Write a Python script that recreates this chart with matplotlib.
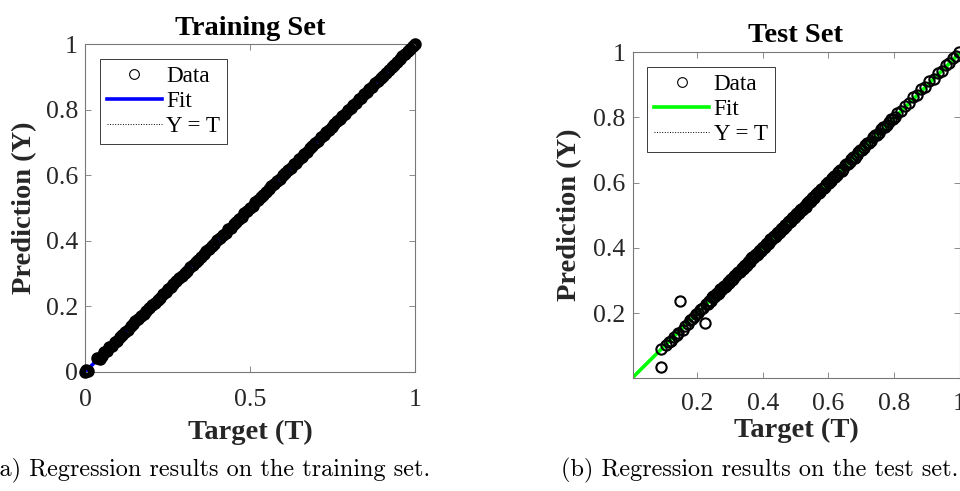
import matplotlib
matplotlib.use("Agg")
import matplotlib.pyplot as plt
from matplotlib.lines import Line2D

# training set: targets (T) and network outputs (Y)
train_target = [
    0.000, 0.003, 0.008, 0.036, 0.044, 0.051, 0.058, 0.066, 0.073, 0.081,
    0.090, 0.097, 0.106, 0.113, 0.121, 0.130, 0.138, 0.146, 0.153, 0.162,
    0.171, 0.178, 0.186, 0.195, 0.203, 0.212, 0.220, 0.227, 0.236, 0.244,
    0.253, 0.261, 0.268, 0.277, 0.286, 0.293, 0.302, 0.310, 0.318, 0.327,
    0.335, 0.342, 0.351, 0.360, 0.367, 0.376, 0.384, 0.392, 0.401, 0.409,
    0.417, 0.426, 0.434, 0.441, 0.450, 0.459, 0.466, 0.475, 0.483, 0.491,
    0.500, 0.508, 0.516, 0.525, 0.533, 0.540, 0.549, 0.558, 0.565, 0.574,
    0.582, 0.590, 0.599, 0.607, 0.615, 0.624, 0.632, 0.639, 0.648, 0.657,
    0.664, 0.673, 0.681, 0.689, 0.698, 0.706, 0.714, 0.723, 0.731, 0.738,
    0.747, 0.756, 0.763, 0.772, 0.780, 0.788, 0.797, 0.805, 0.813, 0.822,
    0.830, 0.837, 0.846, 0.855, 0.862, 0.871, 0.879, 0.887, 0.896, 0.904,
    0.912, 0.921, 0.929, 0.936, 0.945, 0.954, 0.961, 0.970, 0.978, 0.986,
    0.993, 1.000,
]
train_pred = [
    0.001, 0.006, 0.004, 0.043, 0.040, 0.050, 0.061, 0.064, 0.075, 0.080,
    0.091, 0.096, 0.107, 0.112, 0.122, 0.129, 0.139, 0.145, 0.154, 0.161,
    0.172, 0.177, 0.187, 0.194, 0.204, 0.211, 0.221, 0.226, 0.237, 0.243,
    0.254, 0.260, 0.269, 0.276, 0.287, 0.292, 0.303, 0.309, 0.319, 0.326,
    0.336, 0.341, 0.352, 0.359, 0.368, 0.375, 0.385, 0.391, 0.402, 0.408,
    0.418, 0.425, 0.435, 0.440, 0.451, 0.458, 0.467, 0.474, 0.484, 0.490,
    0.501, 0.507, 0.517, 0.524, 0.534, 0.539, 0.550, 0.557, 0.566, 0.573,
    0.583, 0.589, 0.600, 0.606, 0.616, 0.623, 0.633, 0.638, 0.649, 0.656,
    0.665, 0.672, 0.682, 0.688, 0.699, 0.705, 0.715, 0.722, 0.732, 0.737,
    0.748, 0.755, 0.764, 0.771, 0.781, 0.787, 0.798, 0.804, 0.814, 0.821,
    0.831, 0.836, 0.847, 0.854, 0.863, 0.870, 0.880, 0.886, 0.897, 0.903,
    0.913, 0.920, 0.930, 0.935, 0.946, 0.953, 0.962, 0.969, 0.979, 0.985,
    0.994, 1.000,
]

# test set
test_target = [
    0.089, 0.089, 0.105, 0.112, 0.118, 0.128, 0.138, 0.142, 0.148, 0.155,
    0.163, 0.170, 0.178, 0.183, 0.190, 0.196, 0.202, 0.207, 0.212, 0.218,
    0.222, 0.226, 0.231, 0.236, 0.241, 0.246, 0.252, 0.257, 0.262, 0.268,
    0.273, 0.279, 0.284, 0.289, 0.295, 0.300, 0.305, 0.311, 0.316, 0.322,
    0.327, 0.332, 0.338, 0.343, 0.349, 0.354, 0.360, 0.365, 0.371, 0.376,
    0.382, 0.387, 0.393, 0.398, 0.404, 0.409, 0.415, 0.421, 0.426, 0.432,
    0.437, 0.443, 0.449, 0.454, 0.460, 0.466, 0.471, 0.477, 0.483, 0.489,
    0.494, 0.500, 0.506, 0.512, 0.518, 0.524, 0.530, 0.536, 0.543, 0.549,
    0.556, 0.563, 0.570, 0.578, 0.586, 0.594, 0.603, 0.612, 0.621, 0.630,
    0.640, 0.650, 0.660, 0.670, 0.680, 0.691, 0.702, 0.713, 0.724, 0.736,
    0.748, 0.760, 0.772, 0.784, 0.797, 0.809, 0.821, 0.833, 0.846, 0.858,
    0.870, 0.883, 0.895, 0.908, 0.921, 0.934, 0.946, 0.958, 0.969, 0.980,
    0.990, 0.998,
    0.249, 0.254, 0.260, 0.265, 0.270, 0.276, 0.281, 0.287, 0.292, 0.297,
    0.303, 0.308, 0.314, 0.319, 0.324, 0.330, 0.335, 0.341, 0.346, 0.351,
    0.357, 0.362, 0.368, 0.373, 0.379, 0.384, 0.390, 0.395, 0.401, 0.406,
    0.412, 0.418, 0.423, 0.429, 0.434, 0.440, 0.446, 0.451, 0.457, 0.463,
    0.468, 0.474, 0.480, 0.486, 0.491, 0.497, 0.503, 0.509, 0.515, 0.521,
    0.527, 0.533, 0.540, 0.546, 0.553, 0.560, 0.567, 0.574, 0.582, 0.590,
    0.599, 0.608, 0.617, 0.626, 0.635, 0.645, 0.655, 0.665, 0.675, 0.686,
    0.697, 0.708, 0.719, 0.730, 0.742, 0.754, 0.766, 0.778, 0.791, 0.803,
]
test_pred = [
    0.035, 0.091, 0.104, 0.113, 0.115, 0.126, 0.135, 0.139, 0.239, 0.150,
    0.160, 0.166, 0.181, 0.183, 0.188, 0.197, 0.200, 0.210, 0.214, 0.215,
    0.171, 0.229, 0.228, 0.238, 0.239, 0.249, 0.250, 0.259, 0.260, 0.270,
    0.271, 0.281, 0.282, 0.291, 0.292, 0.303, 0.302, 0.313, 0.314, 0.324,
    0.325, 0.334, 0.335, 0.345, 0.346, 0.357, 0.357, 0.368, 0.368, 0.379,
    0.379, 0.390, 0.390, 0.401, 0.401, 0.412, 0.412, 0.424, 0.423, 0.435,
    0.434, 0.446, 0.446, 0.457, 0.457, 0.469, 0.468, 0.480, 0.480, 0.492,
    0.491, 0.503, 0.503, 0.515, 0.515, 0.527, 0.527, 0.539, 0.540, 0.552,
    0.552, 0.566, 0.567, 0.581, 0.583, 0.597, 0.600, 0.615, 0.618, 0.633,
    0.637, 0.653, 0.657, 0.673, 0.677, 0.694, 0.699, 0.716, 0.721, 0.739,
    0.745, 0.763, 0.769, 0.787, 0.794, 0.812, 0.818, 0.836, 0.843, 0.861,
    0.867, 0.886, 0.892, 0.911, 0.918, 0.937, 0.943, 0.961, 0.966, 0.983,
    0.987, 1.000,
    0.252, 0.252, 0.263, 0.263, 0.273, 0.274, 0.284, 0.285, 0.295, 0.295,
    0.306, 0.306, 0.317, 0.317, 0.327, 0.328, 0.338, 0.339, 0.349, 0.349,
    0.360, 0.360, 0.371, 0.371, 0.382, 0.382, 0.393, 0.393, 0.404, 0.404,
    0.415, 0.416, 0.426, 0.427, 0.437, 0.438, 0.449, 0.449, 0.460, 0.461,
    0.471, 0.472, 0.483, 0.484, 0.494, 0.495, 0.506, 0.507, 0.518, 0.519,
    0.530, 0.531, 0.543, 0.544, 0.556, 0.558, 0.570, 0.572, 0.585, 0.588,
    0.602, 0.606, 0.620, 0.624, 0.638, 0.643, 0.658, 0.663, 0.678, 0.684,
    0.700, 0.706, 0.722, 0.728, 0.745, 0.752, 0.769, 0.776, 0.794, 0.801,
]

# linear fit of Y against T: (slope, intercept)
train_fit = (1.000, 0.000)
test_fit = (0.995, 0.001)

train_xticks = [0, 0.5, 1]
train_yticks = [0, 0.2, 0.4, 0.6, 0.8, 1]
test_ticks = [0.2, 0.4, 0.6, 0.8, 1]

plt.rcParams["font.family"] = ["Liberation Serif", "DejaVu Serif"]
TEXT = "#262626"
EDGE = "#787878"
W, H = 960, 491


def style_axes(ax, lims, xticks, yticks, title, title_pad, xpad, xlab_off, ylab_off):
    ax.set_xlim(*lims)
    ax.set_ylim(*lims)
    ax.set_xticks(xticks)
    ax.set_yticks(yticks)
    ax.set_xticklabels([f"{t:g}" for t in xticks])
    ax.set_yticklabels([f"{t:g}" for t in yticks])
    ax.tick_params(which="both", direction="in", top=True, right=True,
                   length=4, width=0.6, color=EDGE, labelsize=18.6,
                   labelcolor=TEXT, pad=5)
    ax.tick_params(axis="x", pad=xpad)
    for sp in ax.spines.values():
        sp.set_color(EDGE)
        sp.set_linewidth(0.8)
    ax.set_title(title, fontsize=20.5, fontweight="bold", color="black", pad=title_pad)
    ax.set_xlabel("Target (T)", fontsize=20.5, fontweight="bold", color=TEXT)
    ax.set_ylabel("Prediction (Y)", fontsize=20.5, fontweight="bold", color=TEXT)
    ax.xaxis.set_label_coords(0.5, xlab_off)
    ax.yaxis.set_label_coords(ylab_off, 0.5)
    ax.xaxis.label.set_va("center")
    ax.yaxis.label.set_va("center")


def draw_panel(ax, target, pred, fit, fit_color, lims, ms, mew):
    lo, hi = lims
    ax.plot([lo, hi], [lo, hi], ls=":", color="black", lw=0.7, zorder=1)
    ax.plot([lo, hi], [fit[0] * lo + fit[1], fit[0] * hi + fit[1]],
            color=fit_color, lw=2.6, zorder=2)
    ax.plot(target, pred, ls="none", marker="o", ms=ms, mfc="none",
            mec="black", mew=mew, clip_on=False, zorder=3)
    handles = [
        Line2D([], [], ls="none", marker="o", ms=7, mfc="none", mec="black", mew=0.8),
        Line2D([], [], color=fit_color, lw=2.6),
        Line2D([], [], color="black", ls=":", lw=0.7),
    ]
    leg = ax.legend(handles, ["Data", "Fit", "Y = T"], loc="upper left",
                    bbox_to_anchor=(0.045, 0.955), borderaxespad=0,
                    fontsize=16.7, handlelength=2.37, handletextpad=0.2,
                    labelspacing=0.16, borderpad=0.3, fancybox=False,
                    framealpha=1, edgecolor="#3a3a3a")
    leg.get_frame().set_linewidth(0.7)


fig = plt.figure(figsize=(W / 100, H / 100), dpi=100)

# left panel: training set
ax1 = fig.add_axes([85 / W, (H - 372) / H, 330 / W, 328 / H])
draw_panel(ax1, train_target, train_pred, train_fit, "#0000ff", (0, 1), 6.4, 2.6)
style_axes(ax1, (0, 1), train_xticks, train_yticks, "Training Set", 6.5, 12,
           -60 / 328, -60 / 330)

# right panel: test set
ax2 = fig.add_axes([632.5 / W, (H - 378) / H, 327 / W, 326 / H])
draw_panel(ax2, test_target, test_pred, test_fit, "#00ff00", (0.002, 1), 7.4, 1.5)
style_axes(ax2, (0.002, 1), test_ticks, test_ticks, "Test Set", 7, 11,
           -52 / 326, -62.5 / 327)

# subfigure captions
cap = dict(family="cmr10", fontsize=17.5, color="black", va="baseline")
fig.text(-10 / W, (H - 476) / H, "(a) Regression results on the training set.", ha="left", **cap)
fig.text(958 / W, (H - 476) / H, "(b) Regression results on the test set.", ha="right", **cap)

fig.savefig("out.png", dpi=100)
